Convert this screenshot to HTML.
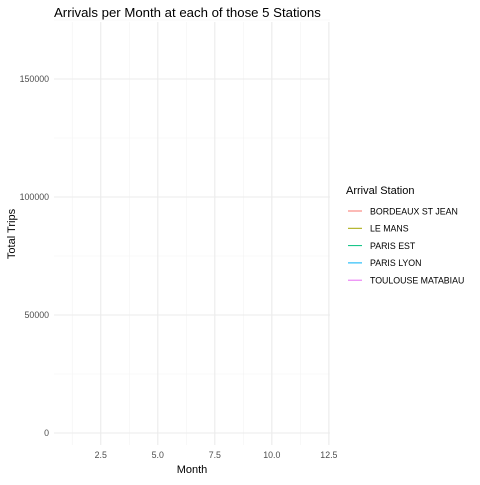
<!DOCTYPE html>
<html><head><meta charset="utf-8"><style>
body{margin:0;background:#fff;}
svg text{font-family:"Liberation Sans",sans-serif;}
</style></head><body>
<svg id="chart" width="480" height="480" viewBox="0 0 480 480">
<rect width="480" height="480" fill="#fff"/>
<g id="grid"></g>
<g id="series"></g>
<g id="axes"></g>
<text x="54" y="17" font-size="13.2" fill="#000">Arrivals per Month at each of those 5 Stations</text>
<text x="192" y="473" font-size="11" text-anchor="middle" fill="#000">Month</text>
<text transform="translate(15,234) rotate(-90)" font-size="11" text-anchor="middle" fill="#000">Total Trips</text>
<g id="legend">
<text x="346" y="194" font-size="11" fill="#000">Arrival Station</text>
</g>
</svg>
<script>
const months = [1,2,3,4,5,6,7,8,9,10,11,12];
const stations = ["BORDEAUX ST JEAN","LE MANS","PARIS EST","PARIS LYON","TOULOUSE MATABIAU"];
const colors = ["#F8766D","#A3A500","#00BF7D","#00B0F6","#E76BF3"];
// series values (no visible lines in reference)
const bordeaux = [];
const leMans = [];
const parisEst = [];
const parisLyon = [];
const toulouse = [];
const xTicks = [2.5,5.0,7.5,10.0,12.5];
const xTickLabels = ["2.5","5.0","7.5","10.0","12.5"];
const yTicks = [0,50000,100000,150000];
const yTickLabels = ["0","50000","100000","150000"];

const NS="http://www.w3.org/2000/svg";
const L=54,R=330,T=22,B=445;
const xMin=0.45,xMax=12.55,yMin=-5000,yMax=174000;
const xs=v=>L+(v-xMin)/(xMax-xMin)*(R-L);
const ys=v=>433-(v)/50000*118;
function mk(tag,attrs,parent){const e=document.createElementNS(NS,tag);for(const k in attrs)e.setAttribute(k,attrs[k]);parent.appendChild(e);return e;}
const grid=document.getElementById('grid'),axes=document.getElementById('axes'),ser=document.getElementById('series'),leg=document.getElementById('legend');
// minor grid
for(let i=0;i<xTicks.length;i++){const v=xTicks[i]-1.25;const l=mk('line',{x1:xs(v),x2:xs(v),y1:T,y2:B,stroke:'#f3f3f3','stroke-width':0.6},grid);

}
for(let i=0;i<yTicks.length;i++){const v=yTicks[i]+25000;const l=mk('line',{x1:L,x2:R,y1:ys(v),y2:ys(v),stroke:'#f3f3f3','stroke-width':0.6},grid);

}
xTicks.forEach((v,i)=>{const l=mk('line',{x1:xs(v),x2:xs(v),y1:T,y2:B,stroke:'#ebebeb','stroke-width':1.1},grid);


const t=mk('text',{x:xs(v),y:458,'font-size':8.8,'text-anchor':'middle',fill:'#4d4d4d'},axes);t.textContent=xTickLabels[i];

});
yTicks.forEach((v,i)=>{const l=mk('line',{x1:L,x2:R,y1:ys(v),y2:ys(v),stroke:'#ebebeb','stroke-width':1.1},grid);


const t=mk('text',{x:49,y:ys(v)+3,'font-size':8.8,'text-anchor':'end',fill:'#4d4d4d'},axes);t.textContent=yTickLabels[i];

});
[bordeaux,leMans,parisEst,parisLyon,toulouse].forEach((s,i)=>{if(!s.length)return;
const p=mk('polyline',{points:s.map((v,j)=>xs(months[j])+','+ys(v)).join(' '),fill:'none',stroke:colors[i],'stroke-width':1},ser);

});
stations.forEach((s,i)=>{const y=211+i*17.3;
const l=mk('line',{x1:348,x2:362,y1:y,y2:y,stroke:colors[i],'stroke-width':1},leg);


const t=mk('text',{x:370,y:y+3.3,'font-size':8.8,fill:'#000'},leg);t.textContent=s;

});
</script>
</body></html>
